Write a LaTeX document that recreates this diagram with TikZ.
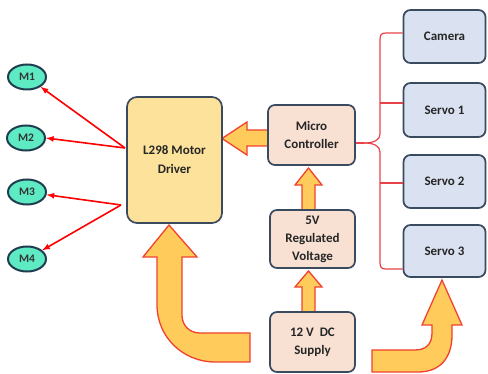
\documentclass[tikz,border=0pt]{standalone}
\usepackage{fontspec}
\setmainfont{Carlito}
\usetikzlibrary{arrows}
\usetikzlibrary{shapes.geometric}
\tikzset{>={latex}}

\definecolor{edgeblue}{HTML}{3A4A5F}
\definecolor{driverfill}{HTML}{FCE29A}
\definecolor{peach}{HTML}{F8E1D3}
\definecolor{servoblue}{HTML}{DAE2F1}
\definecolor{motorfill}{HTML}{5EEBC4}
\definecolor{motoredge}{HTML}{1F3D4F}
\definecolor{fatfill}{HTML}{FFCC5C}
\definecolor{fatred}{HTML}{F0412E}
\definecolor{busred}{HTML}{E8434A}

\tikzstyle{block}=[draw=edgeblue, line width=1.7pt, rounded corners=7pt, align=center, inner sep=0pt, font=\bfseries\fontsize{13}{18}\selectfont, text=black!85]
\tikzstyle{motor}=[ellipse, draw=motoredge, line width=2pt, fill=motorfill, minimum width=38pt, minimum height=25pt, inner sep=0pt, font=\bfseries\fontsize{11.5}{12}\selectfont, text=black!80]
\tikzstyle{fat}=[fill=fatfill, draw=fatred, line width=1.3pt, line join=miter]
\tikzstyle{wire}=[->, red, line width=1.6pt]
\tikzstyle{bus}=[busred, line width=1.2pt]

\begin{document}
\begin{tikzpicture}[x=1pt, y=-1pt]
		%\draw [help lines, step=10] (0,0) grid (488,374);
		\useasboundingbox (0,0) rectangle (488,374);

		% fat arrows first, boxes on top
		\draw[fat] (268,130) -- (247,130) -- (247,122) -- (222,138.5) -- (247,155) -- (247,146) -- (268,146) -- cycle;
		\draw[fat] (302,210) -- (302,185) -- (295,185) -- (308.5,168) -- (322,185) -- (315,185) -- (315,210) -- cycle;
		\draw[fat] (302,312) -- (302,287) -- (295,287) -- (308.5,271) -- (322,287) -- (315,287) -- (315,312) -- cycle;
		\draw[fat] (169,225) -- (197,257) -- (182,257) -- (182,315)
			.. controls (182,326) and (190,333) .. (200,333)
			-- (250,333) -- (250,362) -- (215,362)
			.. controls (183,362) and (157,337) .. (157,305)
			-- (157,257) -- (143,257) -- cycle;
		\draw[fat] (442,280) -- (462,325) -- (452,325) -- (452,335)
			.. controls (452,358) and (440,372) .. (418,372)
			-- (372,372) -- (372,350) -- (415,350)
			.. controls (426,350) and (432,344) .. (432,333)
			-- (432,325) -- (422,325) -- cycle;

		\node[block, fill=driverfill, minimum width=95pt, minimum height=126pt, rounded corners=10pt, font=\bfseries\fontsize{13}{19}\selectfont] (driver) at (174.5,160) {L298 Motor\\Driver};
		\node[block, fill=peach, minimum width=87pt, minimum height=60pt] (micro) at (311.5,135) {Micro\\Controller};
		\node[block, fill=peach, minimum width=85pt, minimum height=58pt] (reg) at (312.5,239) {5V\\Regulated\\Voltage};
		\node[block, fill=peach, minimum width=85pt, minimum height=60pt] (supply) at (312.5,342) {12 V~~DC\\Supply};

		\node[block, fill=servoblue, minimum width=82pt, minimum height=53pt] (camera) at (444.5,36.5) {Camera};
		\node[block, fill=servoblue, minimum width=82pt, minimum height=54pt] (servoA) at (444.5,110) {Servo 1};
		\node[block, fill=servoblue, minimum width=82pt, minimum height=53pt] (servoB) at (444.5,181.5) {Servo 2};
		\node[block, fill=servoblue, minimum width=82pt, minimum height=52pt] (servoC) at (444.5,251) {Servo 3};

		\node[motor] (m1) at (27,77) {M1};
		\node[motor] (m2) at (26,138) {M2};
		\node[motor] (m3) at (27,192) {M3};
		\node[motor] (m4) at (27,259) {M4};

		% driver outputs
		\coordinate (fanA) at (125,148);
		\coordinate (fanB) at (121,205);
		\draw[wire] (fanA) -- (m1);
		\draw[wire] (fanA) -- (m2.east);
		\draw[wire] (fanB) -- (m3);
		\draw[wire] (fanB) -- (m4);

		% bus to camera and servos
		\coordinate (tip) at (364,143);
		\draw[bus] (micro.east |- tip) -- (tip);
		\draw[bus] (camera.west |- 0,33) -- (386,33) .. controls (381,33) and (380,35) .. (380,40)
			-- (380,134) .. controls (380,140) and (374,143) .. (tip);
		\draw[bus] (tip) .. controls (374,143) and (380,146) .. (380,152)
			-- (380,262) .. controls (380,267) and (381,269) .. (386,269) -- (servoC.west |- 0,269);
		\draw[bus] (380,103) -- (servoA.west |- 0,103);
		\draw[bus] (380,183) -- (servoB.west |- 0,183);
\end{tikzpicture}
\end{document}
